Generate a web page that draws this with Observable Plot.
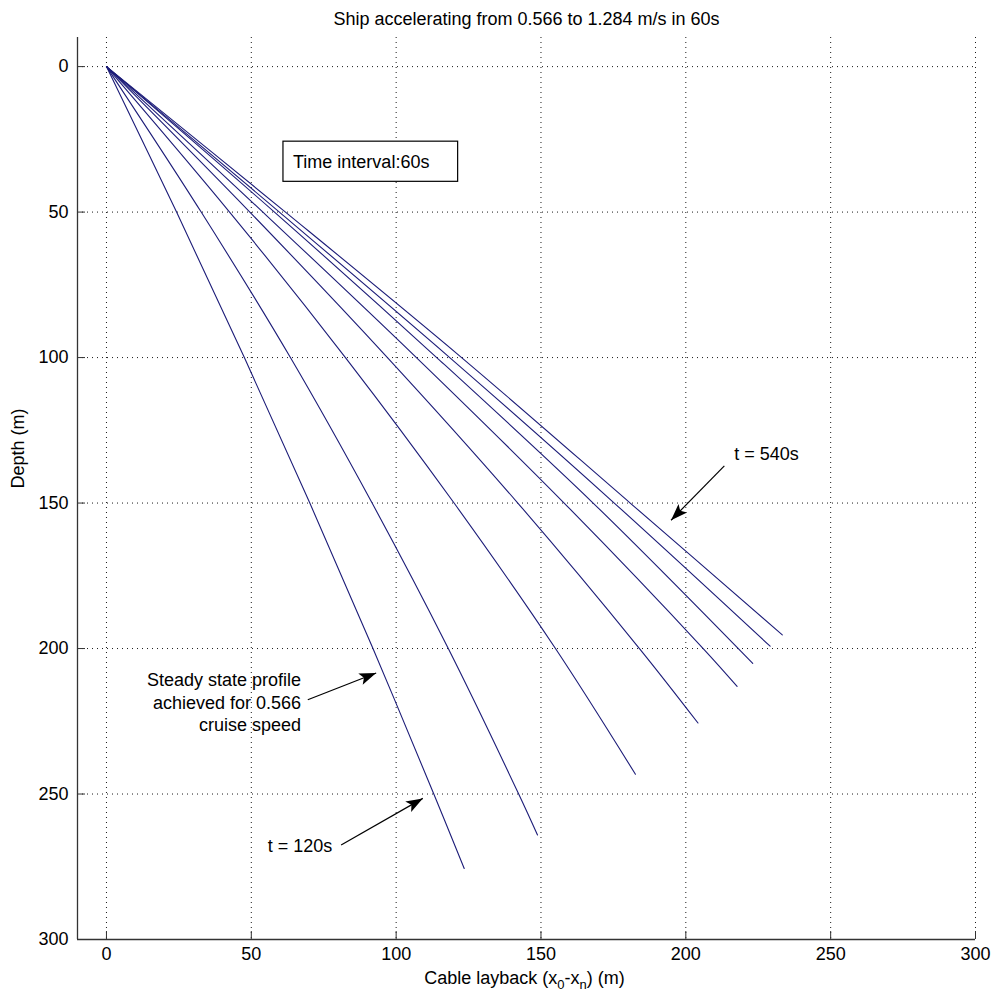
<!DOCTYPE html>
<html>
<head>
<meta charset="utf-8">
<script src="https://cdn.jsdelivr.net/npm/d3@7"></script>
<script src="https://cdn.jsdelivr.net/npm/@observablehq/plot@0.6"></script>
<style>
  html, body { margin: 0; padding: 0; background: #fff; }
</style>
</head>
<body>
<div id="chart"></div>
<script>
// ---- Data ----
const titleText = "Ship accelerating from 0.566 to 1.284 m/s in 60s";
const yLabelText = "Depth (m)";
const xLabelParts = ["Cable layback (x", "0", "-x", "n", ") (m)"]; // odd entries are subscripts

const xTicks = [0, 50, 100, 150, 200, 250, 300];
const yTicks = [0, 50, 100, 150, 200, 250, 300];

// Cable profiles, one per time step (t in s): layback (m) and depth (m)
const times = [120, 180, 240, 300, 360, 420, 480, 540];
const layback120 = [0, 24.2, 47.6, 70.2, 92.0, 113.0, 123.5];
const depth120   = [0, 50, 100, 150, 200, 250, 275.6];
const layback180 = [0, 32.7, 63.5, 91.7, 118.0, 142.3, 148.8];
const depth180   = [0, 50, 100, 150, 200, 250, 264.1];
const layback240 = [0, 42.5, 82.5, 120.0, 155.0, 182.6];
const depth240   = [0, 50, 100, 150, 200, 243.2];
const layback300 = [0, 49.5, 97.0, 142.0, 184.0, 204.2];
const depth300   = [0, 50, 100, 150, 200, 225.6];
const layback360 = [0, 54.0, 107.0, 158.0, 206.0, 217.7];
const depth360   = [0, 50, 100, 150, 200, 213.0];
const layback420 = [0, 58.0, 114.0, 168.0, 223.1];
const depth420   = [0, 50, 100, 150, 205.1];
const layback480 = [0, 59.7, 118.5, 175.3, 229.1];
const depth480   = [0, 50, 100, 150, 199.2];
const layback540 = [0, 61.8, 122.6, 180.8, 233.3];
const depth540   = [0, 50, 100, 150, 195.3];

const laybacks = [layback120, layback180, layback240, layback300, layback360, layback420, layback480, layback540];
const depths   = [depth120, depth180, depth240, depth300, depth360, depth420, depth480, depth540];

// Annotations (data coordinates)
const boxText = "Time interval:60s";
const boxX = [61.1, 121.4];
const boxY = [25.8, 39.6];
const boxTextX = 64.4;

const noteTexts = ["Steady state profile\nachieved for 0.566\ncruise speed", "t = 120s", "t = 540s"];
const noteX = [67.2, 55.7, 216.7];
const noteY = [218.2, 268.1, 133.2];
const noteAnchor = ["end", "start", "start"];

const arrowStartX = [69.5, 81.0, 213.3];
const arrowStartY = [217.6, 267.5, 137.2];
const arrowTipX   = [93.1, 109.2, 194.9];
const arrowTipY   = [208.4, 251.5, 155.9];

// ---- Build tables ----
const profiles = times.flatMap((t, i) =>
  laybacks[i].map((x, j) => ({t, x, y: depths[i][j]}))
);
const notes = noteTexts.map((text, i) => ({text, x: noteX[i], y: noteY[i], anchor: noteAnchor[i]}));
const arrows = arrowStartX.map((x1, i) => ({x1, y1: arrowStartY[i], x2: arrowTipX[i], y2: arrowTipY[i]}));

// ---- Layout ----
const W = 994, H = 997;
const mL = 77, mR = 19, mT = 37, mB = 58;
const xDomain = [-10, 300], yDomain = [-10, 300];
const kx = (W - mL - mR) / (xDomain[1] - xDomain[0]);
const ky = (H - mT - mB) / (yDomain[1] - yDomain[0]);

// MATLAB-style filled arrowhead, tip at origin, pointing up
const arrowHead = {
  draw(context, size) {
    const r = Math.sqrt(size / Math.PI);
    const L = 2.1 * r, w = 0.75 * r;
    context.moveTo(0, 0);
    context.lineTo(-w, L);
    context.lineTo(0, L * 0.78);
    context.lineTo(w, L);
    context.closePath();
  }
};

const font = "'Liberation Sans', Arial, sans-serif";
const ink = "#000";
const fs = 18;

const chart = Plot.plot({
  width: W,
  height: H,
  marginLeft: mL,
  marginRight: mR,
  marginTop: mT,
  marginBottom: mB,
  style: {fontFamily: font, fontSize: fs + "px", background: "#fff", color: ink},
  x: {domain: xDomain},
  y: {domain: yDomain, reverse: true},
  marks: [
    Plot.gridX(xTicks, {stroke: "#000", strokeOpacity: 0.9, strokeWidth: 1, strokeDasharray: "1,4"}),
    Plot.gridY(yTicks, {stroke: "#000", strokeOpacity: 0.9, strokeWidth: 1, strokeDasharray: "1,4"}),
    // axis lines (left and bottom only)
    Plot.ruleX([xDomain[0]], {stroke: "#333", strokeWidth: 1.3}),
    Plot.ruleY([yDomain[1]], {stroke: "#333", strokeWidth: 1.3}),
    // inward ticks
    Plot.axisX(xTicks, {anchor: "bottom", tickSize: -8, text: null, stroke: "#333", label: null}),
    Plot.axisY(yTicks, {anchor: "left", tickSize: -8, text: null, stroke: "#333", label: null}),
    // tick labels
    Plot.axisX(xTicks, {anchor: "bottom", tickSize: 0, tickPadding: 8, label: null, fill: ink, fontSize: fs}),
    Plot.axisY(yTicks, {anchor: "left", tickSize: 0, tickPadding: 9, label: null, fill: ink, fontSize: fs}),
    // cable profiles
    Plot.line(profiles, {x: "x", y: "y", z: "t", stroke: "#1c1c78", strokeWidth: 1.1, curve: "catmull-rom"}),
    // time-interval box
    Plot.rect([boxText], {x1: boxX[0], x2: boxX[1], y1: boxY[0], y2: boxY[1], fill: "#fff", stroke: "#000", strokeWidth: 1.2}),
    Plot.text([boxText], {x: boxTextX, y: (boxY[0] + boxY[1]) / 2, text: d => d, textAnchor: "start", fill: ink, fontSize: fs}),
    // annotations
    Plot.text(notes, {filter: d => d.anchor === "end", x: "x", y: "y", text: "text", textAnchor: "end", lineHeight: 1.26, fill: ink, fontSize: fs}),
    Plot.text(notes, {filter: d => d.anchor === "start", x: "x", y: "y", text: "text", textAnchor: "start", fill: ink, fontSize: fs}),
    Plot.link(arrows, {x1: "x1", y1: "y1", x2: "x2", y2: "y2", stroke: "#000", strokeWidth: 1.2}),
    Plot.dot(arrows, {
      x: "x2", y: "y2", symbol: arrowHead, r: 8, fill: "#000", stroke: "none",
      rotate: d => Math.atan2((d.x2 - d.x1) * kx, -(d.y2 - d.y1) * ky) * 180 / Math.PI
    }),
    // title and axis labels
    Plot.text([titleText], {frameAnchor: "top", dy: -18, lineAnchor: "middle", fill: ink, fontSize: fs}),
    Plot.text([yLabelText], {frameAnchor: "left", dx: -59, rotate: -90, fill: ink, fontSize: fs}),
    Plot.text([xLabelParts.join("")], {frameAnchor: "bottom", dy: 39, dx: -2, lineAnchor: "middle", fill: ink, fontSize: fs})
  ]
});

// subscripts in the x label
d3.select(chart).selectAll("text")
  .filter(function () { return this.textContent === xLabelParts.join(""); })
  .each(function () {
    const t = d3.select(this);
    t.text(null);
    xLabelParts.forEach((p, i) => {
      const ts = t.append("tspan").text(p);
      if (i % 2 === 1) ts.attr("font-size", 13).attr("dy", 5);
      else if (i > 0) ts.attr("dy", -5);
    });
  });

document.getElementById("chart").appendChild(chart);
</script>
</body>
</html>
